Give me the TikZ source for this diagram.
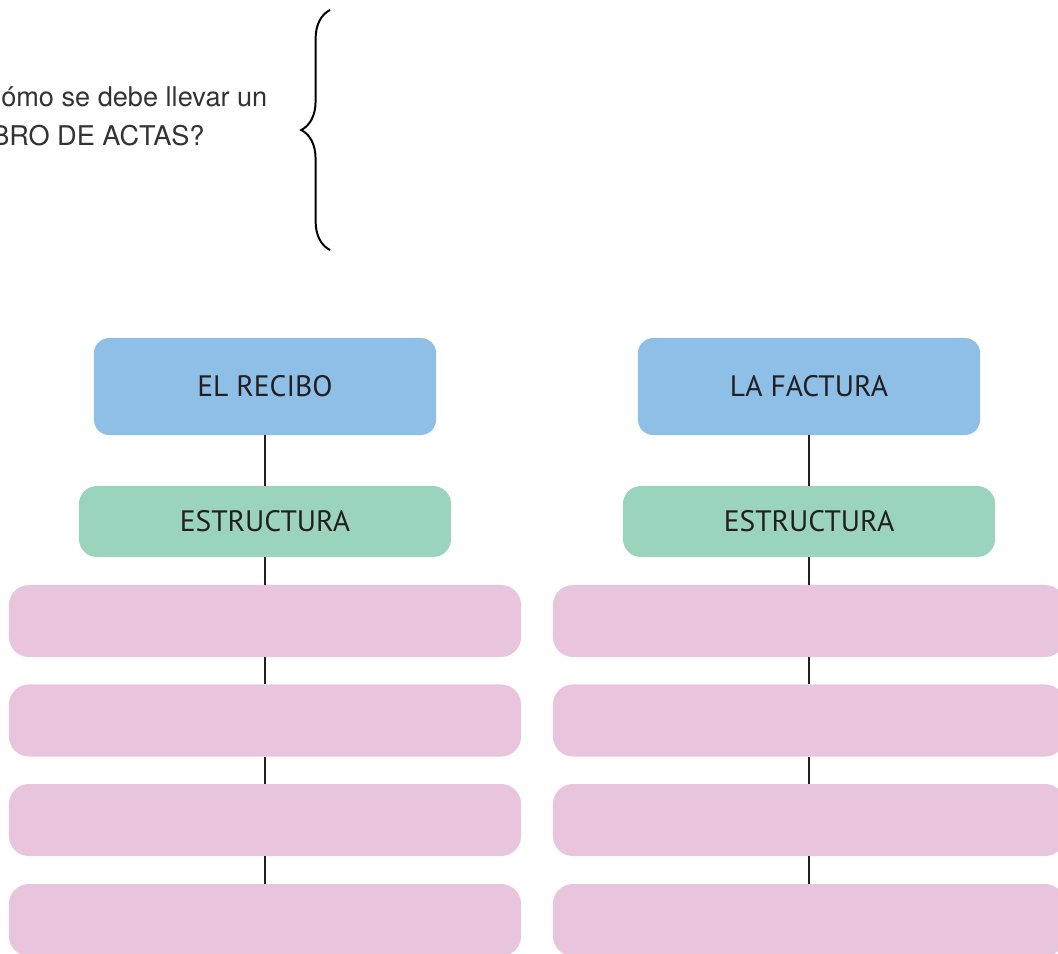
\documentclass[tikz,border=0pt]{standalone}
\usepackage{fontspec}
\setmainfont{PT Sans}
\newfontfamily\askfont{TeX Gyre Heros}
\usetikzlibrary{positioning}
\usetikzlibrary{decorations.pathreplacing}
\definecolor{tituloazul}{HTML}{8EBFE7}
\definecolor{estverde}{HTML}{9BD4BC}
\definecolor{filarosa}{HTML}{E9C4DD}
\definecolor{tinta}{HTML}{231F20}
\tikzset{
  titulo/.style={rectangle,rounded corners=0.38cm,fill=tituloazul,text=tinta,
    minimum width=8.55cm,minimum height=2.425cm,inner sep=0pt,font=\fontsize{21}{24}\selectfont},
  estr/.style={rectangle,rounded corners=0.45cm,fill=estverde,text=tinta,
    minimum width=9.3cm,minimum height=1.775cm,inner sep=0pt,font=\fontsize{21}{24}\selectfont},
  fila/.style={rectangle,rounded corners=0.5cm,fill=filarosa,
    minimum width=12.8cm,minimum height=1.8cm,inner sep=0pt},
  enlace/.style={draw=tinta,line width=1.9pt},
  pregunta/.style={anchor=base west,inner sep=0pt,text=black!80,font=\askfont\fontsize{19.3}{22}\selectfont}
}

\begin{document}
\begin{tikzpicture}[x=0.025cm,y=-0.025cm]
% \draw[help lines] (0,0) grid (1058,953);
\useasboundingbox (0,0) rectangle (1058,953);
\node (q1) [pregunta] at (1,107) {ómo se debe llevar un};
\node (q2) [pregunta] at (-9,145) {BRO DE ACTAS?};
\coordinate (llaveA) at (330,250);
\coordinate (llaveB) at (330,10);
\draw[decorate,decoration={brace,amplitude=0.72cm},line width=1.4pt] (llaveA) -- (llaveB);
%
\node (r0) [titulo] at (265,386.5) {EL RECIBO};
\node (r1) [estr] at (265,521.5) {ESTRUCTURA};
\node (r2) [fila] at (265,621) {};
\node (r3) [fila] at (265,720.5) {};
\node (r4) [fila] at (265,820) {};
\node (r5) [fila] at (265,920) {};
%
\node (f0) [titulo] at (809,386.5) {LA FACTURA};
\node (f1) [estr] at (809,521.5) {ESTRUCTURA};
\node (f2) [fila] at (809,621) {};
\node (f3) [fila] at (809,720.5) {};
\node (f4) [fila] at (809,820) {};
\node (f5) [fila] at (809,920) {};
%
\foreach \a/\b in {0/1,1/2,2/3,3/4,4/5}{
  \path[enlace] (r\a.south) -- (r\b.north);
  \path[enlace] (f\a.south) -- (f\b.north);
}
\end{tikzpicture}
\end{document}
